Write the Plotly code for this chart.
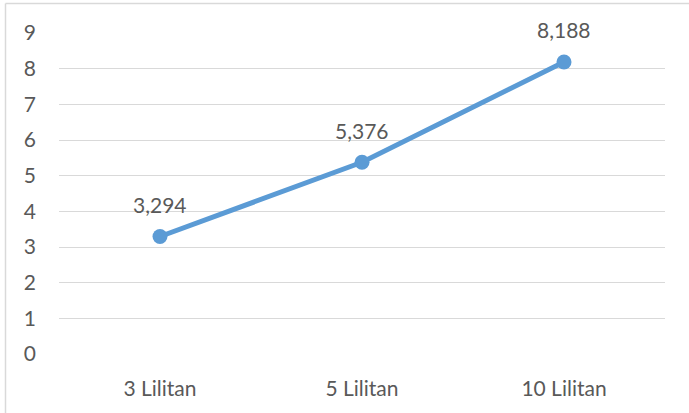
import plotly.graph_objects as go

categories = ["3 Lilitan", "5 Lilitan", "10 Lilitan"]
values = [3.294, 5.376, 8.188]
y_ticks = [0, 1, 2, 3, 4, 5, 6, 7, 8, 9]

line_color = "#5B9BD5"
text_color = "#595959"
grid_color = "#D9D9D9"
font_family = "Lato, 'Open Sans', sans-serif"

fig = go.Figure()
fig.add_trace(go.Scatter(
    x=categories, y=values, mode="lines+markers",
    line=dict(color=line_color, width=5),
    marker=dict(color=line_color, size=15),
    hoverinfo="skip", showlegend=False,
))

for c, v in zip(categories, values):
    fig.add_annotation(
        x=c, y=v, text=f"{v:.3f}".replace(".", ","),
        showarrow=False, yshift=32,
        font=dict(family=font_family, size=21, color=text_color),
    )

W, H = 689, 413
ml, mr, mt, mb = 59, 24, 33, 59
pw, ph = W - ml - mr, H - mt - mb
bx = (5.5 - ml) / pw
by = (H - mb - 3.5) / ph
fig.add_shape(type="line", xref="paper", yref="paper", x0=bx, x1=bx, y0=-0.3, y1=by,
              line=dict(color=grid_color, width=1.5))
fig.add_shape(type="line", xref="paper", yref="paper", x0=bx, x1=1.2, y0=by, y1=by,
              line=dict(color=grid_color, width=1.5))

fig.update_layout(
    width=W, height=H,
    margin=dict(l=ml, r=mr, t=mt, b=mb),
    paper_bgcolor="white", plot_bgcolor="white",
    font=dict(family=font_family, size=21, color=text_color),
    xaxis=dict(type="category", range=[-0.5, 2.5], showgrid=False, zeroline=False,
               showline=False, ticks="", ticklabelstandoff=20, fixedrange=True),
    yaxis=dict(range=[0, 9], tickvals=y_ticks, showgrid=True, gridcolor=grid_color,
               gridwidth=1.2, zeroline=False, showline=False, ticks="",
               ticklabelstandoff=22, fixedrange=True),
)

fig.write_html("out.html")
